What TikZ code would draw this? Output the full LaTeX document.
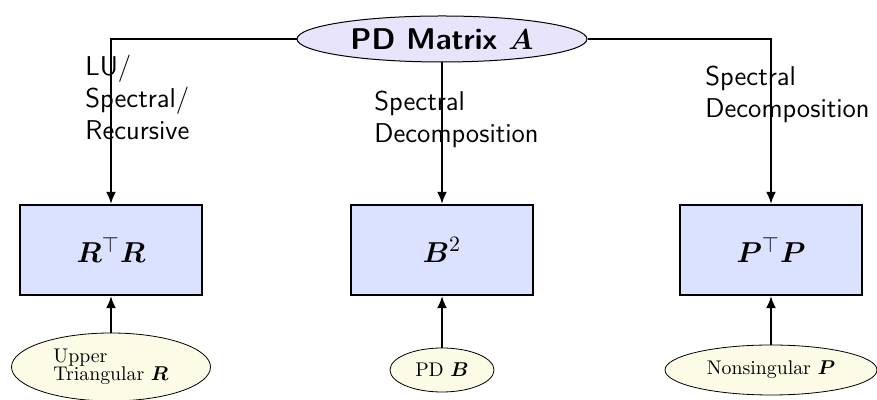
\documentclass[tikz,border=0pt]{standalone}
\usepackage{amsmath,amssymb,bm}
\usetikzlibrary{shapes.geometric,arrows.meta}
\definecolor{topfill}{RGB}{232,228,252}
\definecolor{boxfill}{RGB}{218,226,255}
\definecolor{leaffill}{RGB}{252,252,230}
\tikzset{
  topnode/.style={ellipse,draw=black,line width=0.5pt,fill=topfill,inner sep=0pt,
    font=\sffamily\bfseries\fontsize{15}{18}\selectfont},
  mainbox/.style={rectangle,draw=black,line width=1.2pt,fill=boxfill,inner sep=0pt,
    minimum width=91pt,minimum height=45pt,font=\fontsize{15.6}{18}\selectfont},
  leaf/.style={ellipse,draw=black,line width=0.4pt,fill=leaffill,inner sep=0pt,
    font=\fontsize{9.9}{9}\selectfont,align=left},
  arr/.style={line width=0.9pt,-{Latex[length=6pt,width=5pt]}},
  lbl/.style={inner sep=0pt,align=left,anchor=base west,
    font=\sffamily\fontsize{13.6}{16}\selectfont},
}
\begin{document}
\begin{tikzpicture}[x=0.5pt,y=0.5pt]
\useasboundingbox (0,0) rectangle (877,400);
\node[topnode,minimum width=145pt,minimum height=23pt] (top) at (442,361) {PD Matrix $\bm{A}$};
\node[mainbox] (b1) at (111,150) {$\bm{R}^{\top}\bm{R}$};
\node[mainbox] (b2) at (442,150) {$\bm{B}^{2}$};
\node[mainbox] (b3) at (771,150) {$\bm{P}^{\top}\bm{P}$};
\node[leaf,minimum width=99.5pt,minimum height=34pt] (e1) at (111,33) {Upper\\Triangular $\bm{R}$};
\node[leaf,minimum width=52pt,minimum height=22pt] (e2) at (442,30) {PD $\bm{B}$};
\node[leaf,minimum width=106pt,minimum height=25pt] (e3) at (771,30) {Nonsingular $\bm{P}$};
\draw[arr] (top.west) -| (b1.north);
\draw[arr] (top.south) -- (b2.north);
\draw[arr] (top.east) -| (b3.north);
\draw[arr] (e1.north) -- (b1.south);
\draw[arr] (e2.north) -- (b2.south);
\draw[arr] (e3.north) -- (b3.south);
\node[lbl] (l1) at (85,260) {LU/\\Spectral/\\Recursive};
\node[lbl] (l2) at (374,257) {Spectral\\Decomposition};
\node[lbl] (l3) at (705,282) {Spectral\\Decomposition};
\end{tikzpicture}
\end{document}
